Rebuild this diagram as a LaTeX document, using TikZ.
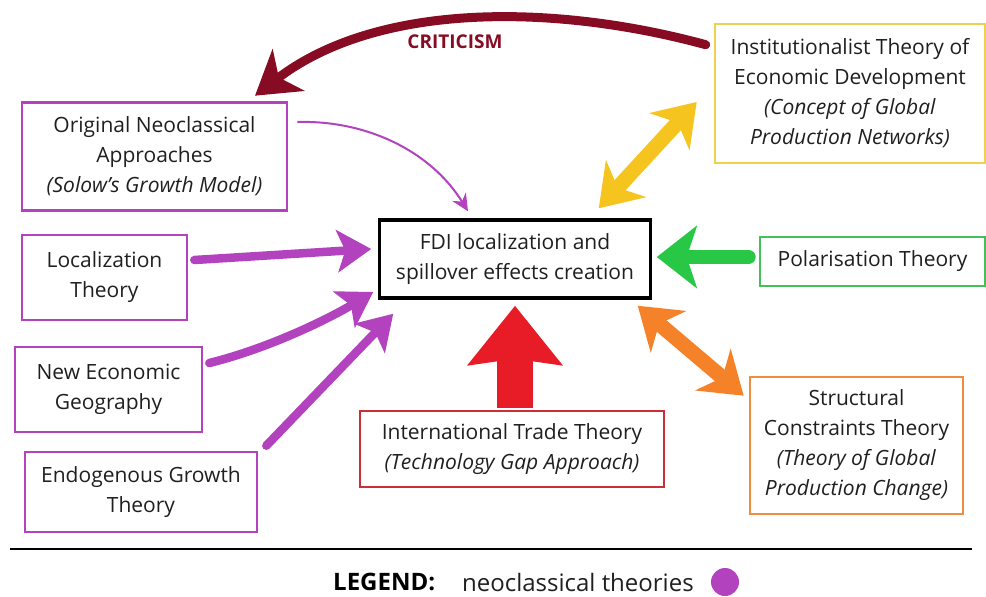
\documentclass[tikz,border=0pt]{standalone}
\usepackage{fontspec}
\setmainfont{Open Sans}
\usetikzlibrary{arrows.meta}
\usetikzlibrary{positioning}

\definecolor{neoviolet}{RGB}{178,66,190}
\definecolor{critred}{RGB}{135,12,35}
\definecolor{tradered}{RGB}{232,28,38}
\definecolor{tradebox}{RGB}{205,45,55}
\definecolor{polgreen}{RGB}{40,200,70}
\definecolor{polbox}{RGB}{70,190,90}
\definecolor{instyellow}{RGB}{246,196,30}
\definecolor{instbox}{RGB}{240,208,80}
\definecolor{structorange}{RGB}{245,130,40}
\definecolor{structbox}{RGB}{238,140,65}

\tikzset{
  bighead/.tip={Stealth[length=40pt,width=54pt,inset=12pt]},
  neohead/.tip={Stealth[length=34pt,width=42pt,inset=8pt]}
}

\begin{document}
\begin{tikzpicture}
[x=1pt,y=-1pt,every node/.style={align=center,inner sep=0pt,text=black!88,font=\fontsize{21}{30}\selectfont},
 theory/.style={draw=#1,line width=2.6pt},
 neo/.style={theory=neoviolet},
 push/.style={-neohead,line width=8.5pt,line cap=round,neoviolet},
 twoway/.style={bighead-bighead,line width=15pt}]

\useasboundingbox (0,0) rectangle (986,597);

% neoclassical side
\node[neo,minimum width=265pt,minimum height=108pt] (orig) at (154.5,156.5) {Original Neoclassical\\Approaches\\\textit{(Solow's Growth Model)}};
\node[neo,minimum width=165pt,minimum height=85pt] (loc) at (104.5,277.5) {Localization\\Theory};
\node[neo,minimum width=187pt,minimum height=85pt] (neg) at (108.5,389.5) {New Economic\\Geography};
\node[neo,minimum width=232pt,minimum height=80pt] (endo) at (141,492) {Endogenous Growth\\Theory};

% centre
\node[draw=black,line width=3.5pt,minimum width=271pt,minimum height=78pt] (fdi) at (515,259) {FDI localization and\\spillover effects creation};

% other theories
\node[theory=instbox,minimum width=270pt,minimum height=139pt] (inst) at (850,93.5) {Institutionalist Theory of\\Economic Development\\\textit{(Concept of Global}\\\textit{Production Networks)}};
\node[theory=polbox,minimum width=225pt,minimum height=49pt] (pol) at (872.5,261.5) {Polarisation Theory};
\node[theory=structbox,minimum width=213pt,minimum height=137pt] (struct) at (856.5,445.5) {Structural\\Constraints Theory\\\textit{(Theory of Global}\\\textit{Production Change)}};
\node[theory=tradebox,minimum width=304pt,minimum height=76pt] (trade) at (512,449) {International Trade Theory\\\textit{(Technology Gap Approach)}};

% arrows into the centre
\draw[neoviolet,line width=2pt,-{Stealth[length=17pt,width=16pt]}] ([shift={(9,-34.5)}]orig.east) .. controls (365,120) and (430,150) .. ([shift={(-47,-7)}]fdi.north);
\draw[push] ([shift={(6,-17.5)}]loc.east) -- ([shift={(-6.5,-10)}]fdi.west);
\draw[push] ([shift={(6,-26.5)}]neg.east) .. controls (270,348) and (330,318) .. ([shift={(-4.5,33)}]fdi.west);
\draw[push] ([shift={(8,-5)}]endo.north east) -- ([shift={(15.5,14)}]fdi.south west);

\draw[tradered,line width=36pt,-{Stealth[length=59pt,width=93pt,inset=6pt]}] ([shift={(3,-2)}]trade.north) -- ([shift={(0,6)}]fdi.south);
\draw[polgreen,line width=14pt,line cap=round,-{Stealth[length=40pt,width=62pt,inset=10pt]}] ([shift={(-10,-4.5)}]pol.west) -- ([shift={(4.5,-2)}]fdi.east);
\draw[twoway,instyellow] ([shift={(-53.5,-10)}]fdi.north east) -- ([shift={(-17,8.5)}]inst.west);
\draw[twoway,structorange] ([shift={(-14.5,6)}]fdi.south east) -- ([shift={(-5,20)}]struct.north west);

% criticism
\draw[critred,line width=9pt,line cap=round,-{Stealth[length=42pt,width=52pt,inset=12pt]}] ([shift={(-8,22)}]inst.north west) .. controls (560,5) and (380,0) .. ([shift={(100.5,-5.5)}]orig.north);
\node[text=critred,font=\fontsize{19}{20}\selectfont\bfseries] (critlbl) at (455,42) {CRITICISM};

% legend
\draw[line width=1.2pt] (10,549) -- (972,549);
\node[anchor=west,text=black,font=\fontsize{24}{26}\selectfont\bfseries] (legend) at (333,582) {LEGEND:};
\node[anchor=west,font=\fontsize{24}{26}\selectfont] (neolbl) at (462,582) {neoclassical theories};
\node[circle,fill=neoviolet,minimum size=28pt] (neodot) at (725,582) {};

\end{tikzpicture}
\end{document}
